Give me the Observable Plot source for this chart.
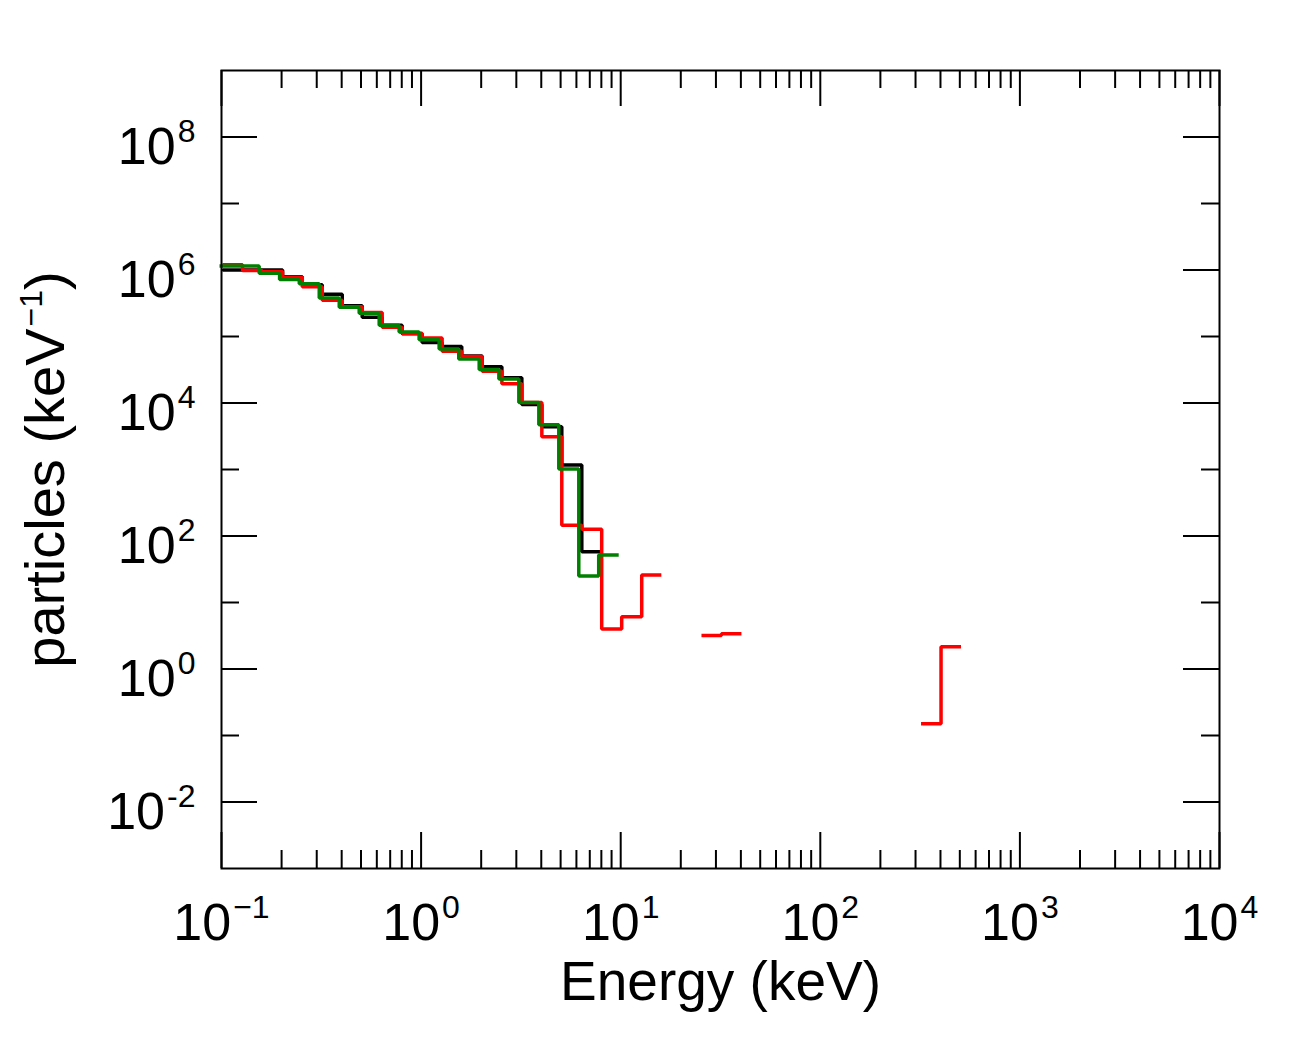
<!DOCTYPE html>
<html>
<head>
<meta charset="utf-8">
<script src="https://cdn.jsdelivr.net/npm/d3@7"></script>
<script src="https://cdn.jsdelivr.net/npm/@observablehq/plot@0.6"></script>
<style>
  body { margin: 0; background: #fff; }
  #chart svg { display: block; }
</style>
</head>
<body>
<div id="chart"></div>
<script>
// ---- Data ----
// Histogram bin edges (keV), 10 bins per decade
const binEdges = [0.1, 0.126, 0.158, 0.2, 0.251, 0.316, 0.398, 0.501, 0.631, 0.794,
  1, 1.26, 1.58, 2.0, 2.51, 3.16, 3.98, 5.01, 6.31, 7.94,
  10, 12.6, 15.8, 20.0, 25.1, 31.6, 39.8, 50.1, 63.1, 79.4,
  100, 126, 158, 200, 251, 316, 398, 501];

// particles per keV in each bin (null = empty bin)
const blackCounts = [1.0e6, 1.0e6, 1.0e6, 7.9e5, 6.0e5, 4.3e5, 2.9e5, 1.95e5, 1.48e5, 1.1e5,
  8.1e4, 7.1e4, 5.1e4, 3.5e4, 2.4e4, 9.5e3, 4.4e3, 1.17e3, 58];
const redCounts = [1.2e6, 9.8e5, 9.5e5, 7.8e5, 5.6e5, 3.5e5, 2.8e5, 2.3e5, 1.38e5, 1.12e5,
  9.5e4, 6.0e4, 5.0e4, 3.0e4, 1.95e4, 1.02e4, 3.1e3, 145, 126, 4.0,
  6.1, 26, null, null, 3.2, 3.4, null, null, null, null,
  null, null, null, null, null, 0.15, 2.16];
const greenCounts = [1.15e6, 1.15e6, 8.9e5, 7.2e5, 6.2e5, 3.8e5, 2.75e5, 2.24e5, 1.48e5, 1.17e5,
  8.9e4, 6.5e4, 4.6e4, 3.2e4, 2.3e4, 1.02e4, 4.7e3, 1.02e3, 25, 52];

const xLabelExps = [-1, 0, 1, 2, 3, 4];
const yLabelExps = [-2, 0, 2, 4, 6, 8];
const xTitle = "Energy (keV)";
const yTitle = "particles (keV^{\u22121})";

// ---- Helpers ----
function stepPoints(values) {
  const pts = [];
  let seg = 0, run = false;
  values.forEach((v, i) => {
    if (v == null) {
      if (run) { pts.push({x: binEdges[i], y: values[i - 1], s: seg}); seg++; run = false; }
      return;
    }
    pts.push({x: binEdges[i], y: v, s: seg});
    run = true;
  });
  if (run) pts.push({x: binEdges[values.length], y: values[values.length - 1], s: seg});
  return pts;
}

const xMajor = [1e-1, 1, 10, 100, 1000, 1e4];
const xMinor = [];
for (let e = -1; e < 4; e++) for (let m = 2; m <= 9; m++) xMinor.push(m * Math.pow(10, e));
const yMajor = yLabelExps.map(e => Math.pow(10, e));
const yMinor = [-1, 1, 3, 5, 7].map(e => Math.pow(10, e));

const W = 1311, H = 1045, mL = 221, mR = 92, mT = 70, mB = 177;
const plotW = W - mL - mR, plotH = H - mT - mB;
const majLen = 36, minLen = 18;
const font = "'Liberation Sans', Arial, Helvetica, sans-serif";

const lineStyle = {x: "x", y: "y", z: "s", curve: "step-after", strokeWidth: 3.5,
  strokeLinejoin: "miter", strokeLinecap: "butt"};

const chart = Plot.plot({
  width: W, height: H,
  marginLeft: mL, marginRight: mR, marginTop: mT, marginBottom: mB,
  x: {type: "log", domain: [0.1, 1e4], axis: null},
  y: {type: "log", domain: [1e-3, 1e9], axis: null},
  style: {fontFamily: font, background: "white", color: "black"},
  marks: [
    // ticks (inward, all four sides)
    Plot.ruleX(xMajor, {insetTop: plotH - majLen, stroke: "black", strokeWidth: 2}),
    Plot.ruleX(xMajor, {insetBottom: plotH - majLen, stroke: "black", strokeWidth: 2}),
    Plot.ruleX(xMinor, {insetTop: plotH - minLen, stroke: "black", strokeWidth: 2}),
    Plot.ruleX(xMinor, {insetBottom: plotH - minLen, stroke: "black", strokeWidth: 2}),
    Plot.ruleY(yMajor, {insetRight: plotW - majLen, stroke: "black", strokeWidth: 2}),
    Plot.ruleY(yMajor, {insetLeft: plotW - majLen, stroke: "black", strokeWidth: 2}),
    Plot.ruleY(yMinor, {insetRight: plotW - minLen, stroke: "black", strokeWidth: 2}),
    Plot.ruleY(yMinor, {insetLeft: plotW - minLen, stroke: "black", strokeWidth: 2}),
    // data
    Plot.line(stepPoints(blackCounts), {...lineStyle, stroke: "black", dx: 1}),
    Plot.line(stepPoints(redCounts), {...lineStyle, stroke: "#ff0000", dx: 1}),
    Plot.line(stepPoints(greenCounts), {...lineStyle, stroke: "#008000", dx: -2}),
    Plot.frame({stroke: "black", strokeWidth: 2}),
    // tick labels
    Plot.text(xLabelExps, {
      x: e => Math.pow(10, e), frameAnchor: "bottom",
      text: e => "10^{" + (e < 0 ? "\u2212" + (-e) : e) + "}",
      textAnchor: "middle", lineAnchor: "bottom", dy: 71, fontSize: 52,
      ariaLabel: "xlabels"
    }),
    Plot.text(yLabelExps, {
      y: e => Math.pow(10, e), frameAnchor: "left",
      text: e => "10^{" + e + "}",
      textAnchor: "end", lineAnchor: "bottom", dx: -26, dy: 27, fontSize: 52,
      ariaLabel: "ylabels"
    }),
    // axis titles
    Plot.text([xTitle], {
      frameAnchor: "bottom", text: d => d, textAnchor: "middle", lineAnchor: "bottom",
      dy: 131, fontSize: 55, ariaLabel: "xtitle"
    }),
    Plot.text([yTitle], {
      frameAnchor: "left", text: d => d, textAnchor: "middle", lineAnchor: "bottom",
      rotate: -90, dx: -158, fontSize: 56, ariaLabel: "ytitle"
    })
  ]
});

// superscript rendering: "base^{sup}rest"
const supStyle = {xlabels: {size: 35, raise: 23}, ylabels: {size: 35, raise: 24}, ytitle: {size: 38, raise: 29}};
d3.select(chart).selectAll("g[aria-label] text").each(function () {
  const t = this.textContent;
  const m = t.match(/^(.*)\^\{([^}]*)\}(.*)$/);
  if (!m) return;
  const g = this.closest("g[aria-label]");
  const st = supStyle[g.getAttribute("aria-label")] || {size: 32, raise: 22};
  const sel = d3.select(this);
  sel.text(null);
  sel.append("tspan").text(m[1]);
  sel.append("tspan").attr("font-size", st.size).attr("dy", -st.raise).attr("dx", 2).text(m[2]);
  if (m[3]) sel.append("tspan").attr("dy", st.raise).text(m[3]);
});

document.getElementById("chart").appendChild(chart);
</script>
</body>
</html>
